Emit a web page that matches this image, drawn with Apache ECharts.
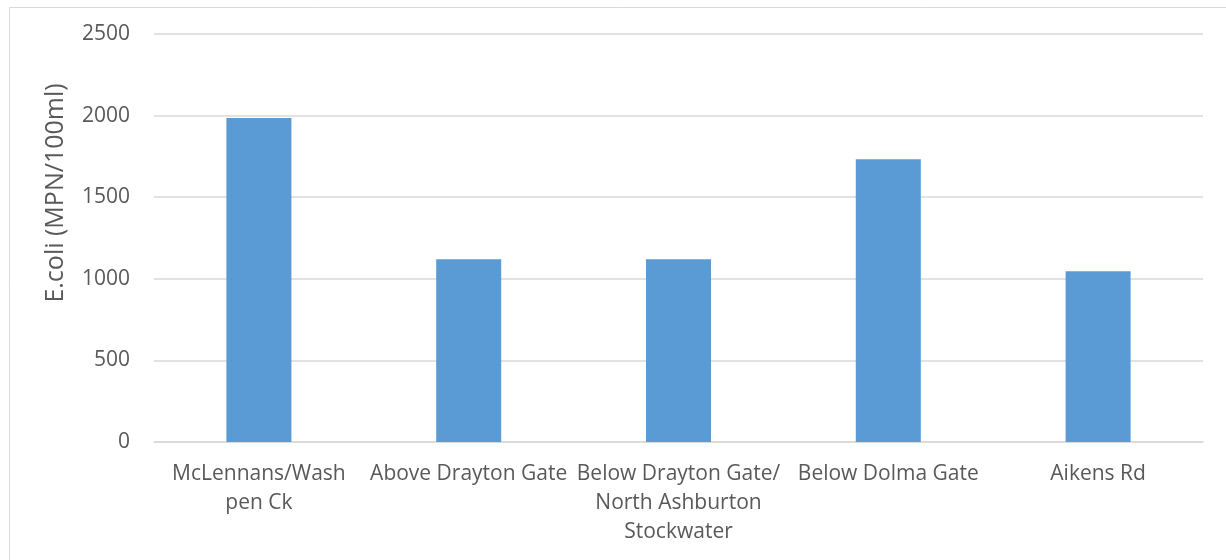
<!DOCTYPE html>
<html>
<head>
<meta charset="utf-8">
<script src="https://cdn.jsdelivr.net/npm/echarts@6/dist/echarts.min.js"></script>
<style>
  html, body { margin: 0; padding: 0; background: #ffffff; }
  #chart { width: 1226px; height: 560px; }
</style>
</head>
<body>
<div id="chart"></div>
<script>
// Sampling sites along the creek (labels wrapped as displayed)
const sites = [
  'McLennans/Wash\npen Ck',
  'Above Drayton Gate',
  'Below Drayton Gate/\nNorth Ashburton\nStockwater',
  'Below Dolma Gate',
  'Aikens Rd'
];
// E.coli counts, MPN per 100 ml
const ecoli = [1986, 1120, 1120, 1733, 1046];
// Value axis range
const yMin = 0;
const yMax = 2500;
const yStep = 500;

const textColor = '#595959';
const fontFamily = '"Open Sans", "Noto Sans", sans-serif';

const chart = echarts.init(document.getElementById('chart'), null, { renderer: 'canvas' });
chart.setOption({
  animation: false,
  backgroundColor: '#ffffff',
  textStyle: { fontFamily: fontFamily, color: textColor },
  graphic: [
    {
      type: 'rect',
      left: 7, top: 5,
      shape: { width: 1240, height: 580 },
      style: { fill: 'none', stroke: '#d9d9d9', lineWidth: 1 },
      silent: true
    },
    {
      type: 'text',
      x: 56, y: 193,
      rotation: Math.PI / 2,
      style: {
        text: 'E.coli (MPN/100ml)',
        fill: textColor,
        font: '25px ' + fontFamily,
        align: 'center',
        verticalAlign: 'middle'
      },
      silent: true
    }
  ],
  grid: { left: 154, right: 23, top: 34, bottom: 118, containLabel: false },
  xAxis: {
    type: 'category',
    data: sites,
    axisLine: { show: true, lineStyle: { color: '#d9d9d9', width: 1.5 } },
    axisTick: { show: false },
    axisLabel: {
      interval: 0,
      margin: 18,
      color: textColor,
      fontSize: 21,
      lineHeight: 29,
      fontFamily: fontFamily,
      align: 'center'
    },
    splitLine: { show: false }
  },
  yAxis: {
    type: 'value',
    min: yMin,
    max: yMax,
    interval: yStep,
    axisLine: { show: false },
    axisTick: { show: false },
    axisLabel: {
      margin: 24,
      color: textColor,
      fontSize: 21,
      fontFamily: fontFamily,
      formatter: function (v) { return String(v); }
    },
    splitLine: { show: true, lineStyle: { color: '#d9d9d9', width: 1.5 } }
  },
  series: [
    {
      type: 'bar',
      data: ecoli,
      barWidth: '31%',
      itemStyle: { color: '#5b9bd5' },
      silent: true
    }
  ]
});
</script>
</body>
</html>
